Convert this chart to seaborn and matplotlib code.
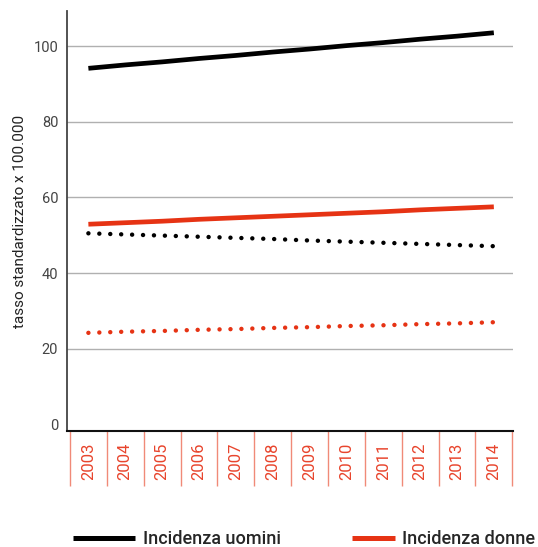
import numpy as np
import pandas as pd
import matplotlib
matplotlib.use("Agg")
import matplotlib.pyplot as plt
from matplotlib.lines import Line2D
import matplotlib.transforms as mtransforms
import seaborn as sns

# ---- data ----
years = [2003, 2004, 2005, 2006, 2007, 2008, 2009, 2010, 2011, 2012, 2013, 2014]
incidenza_uomini = [94.1, 95.0, 95.8, 96.7, 97.5, 98.4, 99.2, 100.1, 100.9, 101.8, 102.6, 103.5]
incidenza_donne = [52.9, 53.3, 53.7, 54.2, 54.6, 55.0, 55.4, 55.8, 56.2, 56.7, 57.1, 57.5]
mortalita_uomini = [50.5, 50.2, 49.9, 49.6, 49.3, 49.0, 48.6, 48.3, 48.0, 47.7, 47.4, 47.1]
mortalita_donne = [24.2, 24.5, 24.7, 25.0, 25.2, 25.5, 25.7, 26.0, 26.2, 26.5, 26.7, 27.0]
y_ticks = [0, 20, 40, 60, 80, 100]
legend_labels = ["Incidenza uomini", "Incidenza donne"]
y_label = "tasso standardizzato x 100.000"

df = pd.DataFrame({
    "anno": years,
    "inc_u": incidenza_uomini,
    "inc_d": incidenza_donne,
    "mor_u": mortalita_uomini,
    "mor_d": mortalita_donne,
})

BLACK = "#000000"
RED = "#e63314"
TICKRED = "#e8442c"
SEPRED = "#f08a78"

sns.set_theme(style="white")
plt.rcParams["font.family"] = ["Roboto", "DejaVu Sans"]

fig = plt.figure(figsize=(5.38, 5.47), dpi=100)
ax = fig.add_axes([67 / 538, 1 - 431 / 547, (513 - 67) / 538, (431 - 11) / 547])

sns.lineplot(data=df, x="anno", y="inc_u", ax=ax, color=BLACK, linewidth=3.4,
             solid_capstyle="butt", legend=False)
sns.lineplot(data=df, x="anno", y="inc_d", ax=ax, color=RED, linewidth=3.4,
             solid_capstyle="butt", legend=False)
sns.lineplot(data=df, x="anno", y="mor_u", ax=ax, color=BLACK, linewidth=3.2,
             linestyle=(0, (0.01, 2.45)), dash_capstyle="round", legend=False)
sns.lineplot(data=df, x="anno", y="mor_d", ax=ax, color=RED, linewidth=3.2,
             linestyle=(0, (0.01, 2.45)), dash_capstyle="round", legend=False)

ax.set_xlim(2002.42, 2014.52)
ax.set_ylim(-1.74, 109.25)
ax.set_yticks(y_ticks)
ax.set_yticklabels([str(v) for v in y_ticks])
ax.set_xticks(years)
ax.set_xticklabels([str(y) for y in years], rotation=90, color=TICKRED, fontsize=12)
ax.tick_params(axis="x", length=0, pad=8.5)
ax.tick_params(axis="y", length=0, pad=6.3, labelsize=10.5, labelcolor="#444444")

ax.set_xlabel("")
ax.set_ylabel(y_label, fontsize=11, color="#222222", labelpad=5)

ax.yaxis.grid(True, color="#b0b0b0", linewidth=1.0)
ax.xaxis.grid(False)
ax.get_ygridlines()[0].set_visible(False)
ax.set_axisbelow(True)

for side in ["top", "right"]:
    ax.spines[side].set_visible(False)
ax.spines["left"].set_color("#444444")
ax.spines["left"].set_linewidth(1.3)
ax.spines["bottom"].set_color("#111111")
ax.spines["bottom"].set_linewidth(1.5)

# category separators below the axis
trans = mtransforms.blended_transform_factory(ax.transData, ax.transAxes)
edges = [y - 0.5 for y in years] + [years[-1] + 0.5]
ax.vlines(edges, 0, -(486 - 431) / 420, transform=trans, colors=SEPRED,
          linewidth=1.0, clip_on=False)

# legend
h1 = Line2D([], [], color=BLACK, linewidth=3.6, solid_capstyle="butt")
h2 = Line2D([], [], color=RED, linewidth=3.6, solid_capstyle="butt")
leg_kw = dict(frameon=False, loc="center left", borderpad=0, borderaxespad=0,
              prop={"size": 13, "weight": "medium"})
fig.legend([h1], [legend_labels[0]], bbox_to_anchor=(73 / 538, 1 - 539 / 547),
           handlelength=3.44, handletextpad=0.44, **leg_kw)
fig.legend([h2], [legend_labels[1]], bbox_to_anchor=(352 / 538, 1 - 539 / 547),
           handlelength=2.4, handletextpad=0.39, **leg_kw)

fig.savefig("out.png", dpi=100)
